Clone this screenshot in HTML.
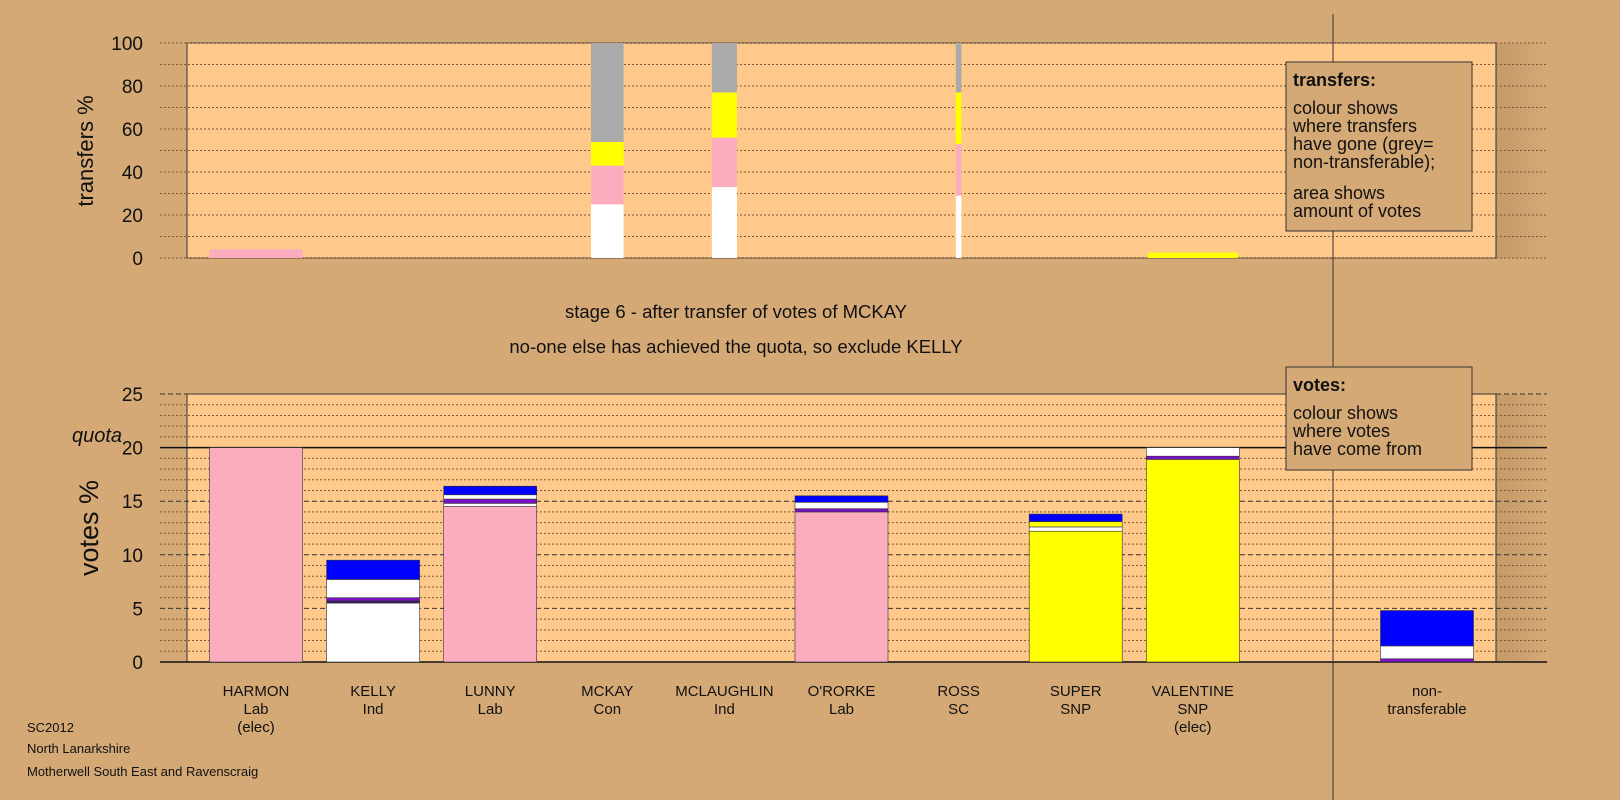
<!DOCTYPE html>
<html><head><meta charset="utf-8"><style>
body{margin:0;background:#d4a976;}
svg{display:block;font-family:"Liberation Sans",sans-serif;}
</style></head><body>
<svg id="c" width="1620" height="800" viewBox="0 0 1620 800">
<defs><linearGradient id="sh" x1="0" x2="1"><stop offset="0" stop-color="#c49a68"/><stop offset="1" stop-color="#d4a976"/></linearGradient></defs>
<rect x="0" y="0" width="1620" height="800" fill="#d4a976"/>
<rect x="1496" y="43" width="50" height="215" fill="url(#sh)"/>
<rect x="1496" y="394" width="50" height="268" fill="url(#sh)"/>
<rect x="187" y="43" width="1309" height="215" fill="#fec98a" stroke="#333"/>
<rect x="187" y="394" width="1309" height="268" fill="#fec98a" stroke="#333"/>
<g id="grid"></g>
<g id="bars"></g>
<line x1="1333" y1="14" x2="1333" y2="800" stroke="#333"/>
<g id="ticks" font-size="19" fill="#111" text-anchor="end"></g>
<text x="72" y="442" font-size="20" font-style="italic" fill="#111">quota</text>
<text transform="translate(93,151) rotate(-90)" font-size="22" text-anchor="middle" fill="#111">transfers %</text>
<text transform="translate(98,528) rotate(-90)" font-size="27" text-anchor="middle" fill="#111">votes %</text>
<text x="736" y="318" font-size="18.5" text-anchor="middle" fill="#111">stage 6 - after transfer of votes of MCKAY</text>
<text x="736" y="353" font-size="18.5" text-anchor="middle" fill="#111">no-one else has achieved the quota, so exclude KELLY</text>
<g>
<rect x="1286" y="62" width="186" height="169" fill="#d4a976" stroke="#333"/>
<text x="1293" y="86" font-size="18" font-weight="bold" fill="#111">transfers:</text>
<text font-size="18" fill="#111"><tspan x="1293" y="114">colour shows</tspan><tspan x="1293" y="132">where transfers</tspan><tspan x="1293" y="150">have gone (grey=</tspan><tspan x="1293" y="168">non-transferable);</tspan><tspan x="1293" y="199">area shows</tspan><tspan x="1293" y="217">amount of votes</tspan></text>
</g>
<g>
<rect x="1286" y="367" width="186" height="103" fill="#d4a976" stroke="#333"/>
<text x="1293" y="391" font-size="18" font-weight="bold" fill="#111">votes:</text>
<text font-size="18" fill="#111"><tspan x="1293" y="419">colour shows</tspan><tspan x="1293" y="437">where votes</tspan><tspan x="1293" y="455">have come from</tspan></text>
</g>
<g id="cats" font-size="15" fill="#111" text-anchor="middle"></g>
<g font-size="13" fill="#111">
<text x="27" y="732">SC2012</text><text x="27" y="753">North Lanarkshire</text><text x="27" y="776">Motherwell South East and Ravenscraig</text>
</g>
</svg>
<script>
const categories=[["HARMON","Lab","(elec)"],["KELLY","Ind"],["LUNNY","Lab"],["MCKAY","Con"],["MCLAUGHLIN","Ind"],["O'RORKE","Lab"],["ROSS","SC"],["SUPER","SNP"],["VALENTINE","SNP","(elec)"],null,["non-","transferable"]];
const segColors={p:"#fbadbf",w:"#ffffff",u:"#7a0fc8",d:"#3a1a6a",b:"#0000ff",y:"#ffff00",g:"#aaaaaa"};
// votes stacks: [colorKey, value] from bottom
const voteStacks=[
 [["p",20]],
 [["w",5.5],["d",0.2],["u",0.3],["w",1.7],["b",1.8]],
 [["p",14.5],["w",0.3],["u",0.4],["w",0.4],["b",0.8]],
 [],[],
 [["p",14.0],["u",0.3],["w",0.6],["b",0.6]],
 [],
 [["y",12.2],["w",0.4],["y",0.5],["b",0.7]],
 [["y",18.9],["u",0.3],["w",0.8]],
 null,
 [["u",0.3],["w",1.2],["b",3.3]]
];
// transfers: [categoryIndex, widthFraction, stack]
const transferIdx=[0,3,4,6,8];
const transferWidth=[1,0.35,0.27,0.06,0.97];
const transferStacks=[
 [["p",4]],
 [["w",25],["p",18],["y",11],["g",46]],
 [["w",33],["p",23],["y",21],["g",23]],
 [["w",29],["p",24],["y",24],["g",23]],
 [["y",2.5]]
];
const topTicks=[0,20,40,60,80,100];
const botTicks=[0,5,10,15,20,25];
const NS="http://www.w3.org/2000/svg";
function el(t,a,p){const e=document.createElementNS(NS,t);for(const k in a)e.setAttribute(k,a[k]);p.appendChild(e);return e;}
const yT=v=>258-v*2.15, yB=v=>662-v*10.72;
const xC=i=>256+i*117.1, BW=93;
const grid=document.getElementById('grid'),bars=document.getElementById('bars'),ticks=document.getElementById('ticks'),cats=document.getElementById('cats');
for(let v=0;v<=100;v+=10){const l=el('line',{x1:160,x2:1547,y1:yT(v),y2:yT(v),stroke:'#7a5a3a','stroke-dasharray':'2,2','stroke-width':1},grid);
}
for(let v=0;v<=25;v++){if(v===20||v===0)continue;const maj=v%5===0;const l=el('line',{x1:160,x2:1547,y1:yB(v),y2:yB(v),stroke:maj?'#333':'#7a5a3a','stroke-dasharray':maj?'5,3':'2,2','stroke-width':1},grid);
}
let q=el('line',{x1:160,x2:1547,y1:yB(20),y2:yB(20),stroke:'#111','stroke-width':1.5},grid);

let z=el('line',{x1:160,x2:1547,y1:yB(0),y2:yB(0),stroke:'#111','stroke-width':1.5},grid);

topTicks.forEach(v=>{const t=el('text',{x:143,y:yT(v)+7},ticks);t.textContent=v;
});
botTicks.forEach(v=>{const t=el('text',{x:143,y:yB(v)+7},ticks);t.textContent=v;
});
voteStacks.forEach((s,i)=>{if(!s||!s.length)return;let acc=0;const g=el('g',{},bars);

s.forEach(([c,v])=>{el('rect',{x:xC(i)-BW/2,y:yB(acc+v),width:BW,height:v*10.72,fill:segColors[c],stroke:'#333','stroke-width':0.6},g);acc+=v;});});
transferIdx.forEach((ci,k)=>{let acc=0;const w=BW*transferWidth[k];const g=el('g',{},bars);

transferStacks[k].forEach(([c,v])=>{el('rect',{x:xC(ci)-w/2,y:yT(acc+v),width:w,height:v*2.15,fill:segColors[c]},g);acc+=v;});});
categories.forEach((c,i)=>{if(!c)return;const t=el('text',{x:xC(i),y:696},cats);

c.forEach((s,j)=>{const ts=el('tspan',{x:xC(i),dy:j?18:0},t);ts.textContent=s;});});
</script>
</body></html>
